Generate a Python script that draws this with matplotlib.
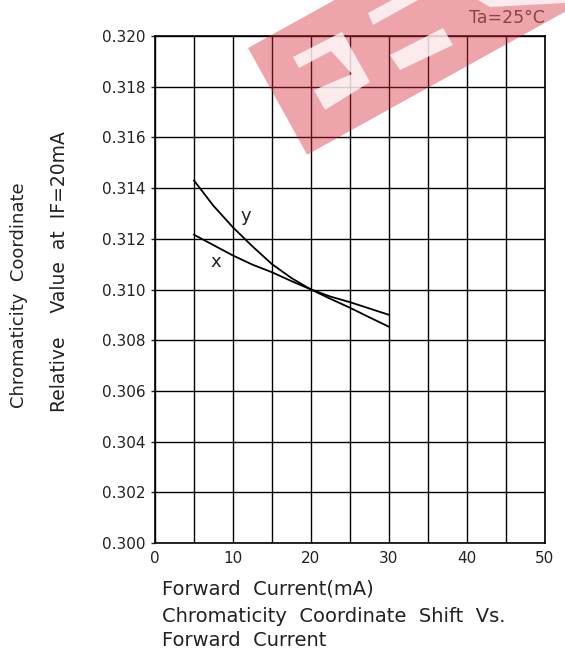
import matplotlib
matplotlib.use("Agg")
import matplotlib.pyplot as plt
from matplotlib.patches import Polygon
import numpy as np

# ---- data ----
current_ma = [5, 7.5, 10, 12.5, 15, 17.5, 20, 22.5, 25, 27.5, 30]
y_coord = [0.3143, 0.3133, 0.31245, 0.31170, 0.31100, 0.31045, 0.3100, 0.30963, 0.30928, 0.30890, 0.30853]
x_coord = [0.31216, 0.31175, 0.31134, 0.31098, 0.31068, 0.31033, 0.3100, 0.30972, 0.30950, 0.30925, 0.30900]
x_ticks = [0, 10, 20, 30, 40, 50]
y_ticks = [0.300, 0.302, 0.304, 0.306, 0.308, 0.310, 0.312, 0.314, 0.316, 0.318, 0.320]

W, H = 565, 656
fig = plt.figure(figsize=(W / 100, H / 100), dpi=100)
plt.rcParams['font.family'] = ['DejaVu Sans']

L, R, T, B = 155, 545, 36, 543
ax = fig.add_axes([L / W, 1 - B / H, (R - L) / W, (B - T) / H])
ax.set_xlim(0, 50)
ax.set_ylim(0.300, 0.320)

ax.set_xticks(x_ticks)
ax.set_xticks(np.arange(0, 51, 5), minor=True)
ax.set_yticks(y_ticks)
ax.set_yticklabels([f"{v:.3f}" for v in y_ticks])
ax.grid(True, which='both', axis='x', color='black', lw=1.0)
ax.grid(True, which='major', axis='y', color='black', lw=1.0)
ax.set_axisbelow(True)
ax.tick_params(axis='y', direction='out', length=3, width=1, pad=4, labelsize=11, colors='#222222')
ax.tick_params(axis='x', which='both', length=0, pad=6, labelsize=11, colors='#222222')
for s in ax.spines.values():
    s.set_color('black')
    s.set_linewidth(1.2)

ax.plot(current_ma, y_coord, color='black', lw=1.3)
ax.plot(current_ma, x_coord, color='black', lw=1.3)
ax.text(11.7, 0.3129, "y", fontsize=13, ha='center', va='center', color='#222222')
ax.text(7.8, 0.3111, "x", fontsize=13, ha='center', va='center', color='#222222')

# texts
fig.text(545 / W, 1 - 18 / H, "Ta=25°C", fontsize=12.5, ha='right', va='center', color='#555555')
fig.text(19 / W, 1 - 295 / H, "Chromaticity  Coordinate", rotation=90, fontsize=13,
         ha='center', va='center', color='#222222')
fig.text(60 / W, 1 - 272 / H, "Relative    Value  at  IF=20mA", rotation=90, fontsize=13.5,
         ha='center', va='center', color='#222222')
fig.text(162 / W, 1 - 589 / H, "Forward  Current(mA)", fontsize=14, ha='left', va='center', color='#222222')
fig.text(162 / W, 1 - 616 / H, "Chromaticity  Coordinate  Shift  Vs.", fontsize=14, ha='left', va='center', color='#222222')
fig.text(162 / W, 1 - 641 / H, "Forward  Current", fontsize=14, ha='left', va='center', color='#222222')

# ---- watermark (approximate) ----
th = np.deg2rad(29)
eu = np.array([np.cos(th), -np.sin(th)])
ev = np.array([np.sin(th), np.cos(th)])
O = np.array([248.0, 48.0])

def uv_poly(u0, u1, v0, v1):
    pts = []
    for u, v in [(u0, v0), (u1, v0), (u1, v1), (u0, v1)]:
        p = O + u * eu + v * ev
        pts.append([p[0], H - p[1]])
    return pts

def img_poly(pts):
    return [[x, H - y] for x, y in pts]

fig.add_artist(Polygon(uv_poly(0, 450, 0, 122), closed=True, transform=None,
                       facecolor=(0.84, 0.16, 0.22), alpha=0.42, edgecolor='none', zorder=10))
cutouts = [
    [(293, 57), (342, 32), (370, 82), (325, 110), (314, 90), (352, 74), (331, 51), (299, 68)],
    [(390, 55), (443, 28), (453, 45), (400, 70)],
    [(368, 13), (392, 0), (418, 0), (373, 25)],
    [(478, 0), (565, 0), (565, 3), (490, 7)],
]
for pts in cutouts:
    fig.add_artist(Polygon(img_poly(pts), closed=True, transform=None,
                           facecolor='white', alpha=0.78, edgecolor='none', zorder=11))

fig.savefig("out.png", dpi=100)
